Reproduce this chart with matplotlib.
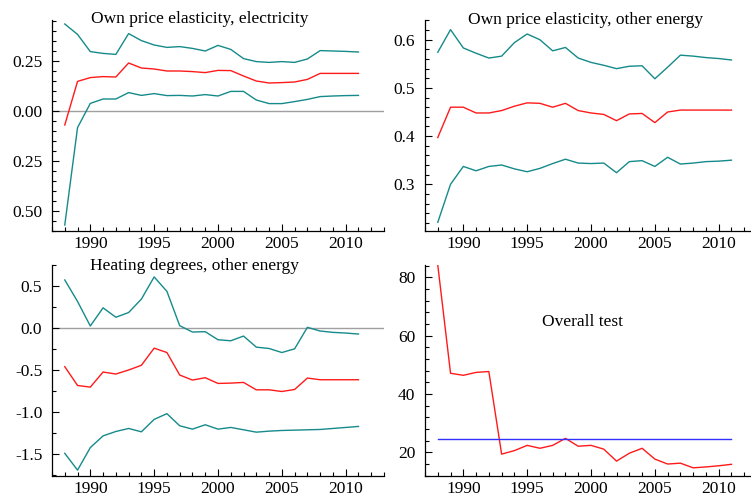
import matplotlib
matplotlib.use("Agg")
import matplotlib.pyplot as plt
from matplotlib.ticker import MultipleLocator, FuncFormatter

# recursive estimates, 1988-2011
years = list(range(1988, 2012))

elec_hi = [0.435, 0.383, 0.297, 0.288, 0.283, 0.387, 0.352, 0.330, 0.318, 0.322,
           0.313, 0.300, 0.328, 0.308, 0.262, 0.247, 0.243, 0.247, 0.243, 0.260,
           0.302, 0.300, 0.298, 0.295]
elec_mid = [-0.070, 0.148, 0.167, 0.172, 0.170, 0.240, 0.215, 0.210, 0.200, 0.200,
            0.197, 0.192, 0.203, 0.202, 0.175, 0.150, 0.140, 0.142, 0.145, 0.158,
            0.188, 0.188, 0.188, 0.188]
elec_lo = [-0.570, -0.083, 0.038, 0.060, 0.060, 0.092, 0.078, 0.087, 0.077, 0.078,
           0.075, 0.082, 0.075, 0.098, 0.098, 0.055, 0.037, 0.037, 0.047, 0.058,
           0.072, 0.075, 0.077, 0.078]

oth_hi = [0.574, 0.621, 0.583, 0.572, 0.562, 0.566, 0.594, 0.612, 0.600, 0.577,
          0.584, 0.562, 0.553, 0.547, 0.540, 0.545, 0.546, 0.519, 0.543, 0.568,
          0.566, 0.563, 0.561, 0.558]
oth_mid = [0.397, 0.460, 0.460, 0.448, 0.448, 0.453, 0.462, 0.469, 0.468, 0.460,
           0.468, 0.453, 0.448, 0.445, 0.432, 0.446, 0.447, 0.428, 0.450, 0.454,
           0.454, 0.454, 0.454, 0.454]
oth_lo = [0.221, 0.300, 0.337, 0.328, 0.337, 0.340, 0.332, 0.326, 0.333, 0.343,
          0.352, 0.344, 0.343, 0.344, 0.324, 0.347, 0.349, 0.337, 0.356, 0.342,
          0.344, 0.347, 0.348, 0.350]

heat_hi = [0.576, 0.320, 0.028, 0.244, 0.132, 0.188, 0.348, 0.612, 0.440, 0.032,
           -0.044, -0.040, -0.136, -0.148, -0.092, -0.224, -0.240, -0.288, -0.244, 0.012,
           -0.032, -0.048, -0.056, -0.068]
heat_mid = [-0.456, -0.680, -0.700, -0.520, -0.544, -0.496, -0.440, -0.236, -0.288, -0.556,
            -0.616, -0.588, -0.656, -0.652, -0.644, -0.732, -0.732, -0.752, -0.728, -0.592,
            -0.612, -0.612, -0.612, -0.612]
heat_lo = [-1.488, -1.688, -1.420, -1.280, -1.228, -1.192, -1.232, -1.084, -1.016, -1.160,
           -1.200, -1.148, -1.200, -1.180, -1.208, -1.236, -1.224, -1.216, -1.212, -1.208,
           -1.204, -1.192, -1.180, -1.168]

overall = [84.2, 47.1, 46.4, 47.4, 47.7, 19.4, 20.6, 22.4, 21.4, 22.4,
           24.8, 22.1, 22.4, 21.1, 17.0, 19.7, 21.4, 17.7, 16.0, 16.3,
           14.7, 15.0, 15.4, 15.9]
crit_value = 24.6

TEAL = "#168a8a"
RED = "#ff1a1a"
BLUE = "#3030ff"
GREY = "#a0a0a0"
FS = 12.5

plt.rcParams["font.family"] = ["Liberation Serif", "DejaVu Serif"]
plt.rcParams["axes.unicode_minus"] = False

W, H = 751, 498
fig = plt.figure(figsize=(W / 100, H / 100), dpi=100)


def px_axes(left, top, right, bottom):
    return fig.add_axes([left / W, 1 - bottom / H, (right - left) / W, (bottom - top) / H])


def style(ax, ylim, major, minor, fmt):
    ax.set_xlim(1987, 2013)
    ax.set_ylim(*ylim)
    for s in ("top", "right"):
        ax.spines[s].set_visible(False)
    for s in ("left", "bottom"):
        ax.spines[s].set_linewidth(0.9)
    ax.xaxis.set_major_locator(MultipleLocator(5))
    ax.xaxis.set_minor_locator(MultipleLocator(1))
    ax.yaxis.set_major_locator(MultipleLocator(major))
    ax.yaxis.set_minor_locator(MultipleLocator(minor))
    ax.yaxis.set_major_formatter(FuncFormatter(fmt))
    ax.tick_params(which="both", direction="in", labelsize=FS, width=0.8)
    ax.tick_params(which="major", length=5)
    ax.tick_params(which="minor", length=3)
    ax.tick_params(axis="y", pad=7)
    ax.tick_params(axis="x", pad=3.5)


ax1 = px_axes(52, 20, 384, 231)
ax2 = px_axes(425, 20, 757, 231)
ax3 = px_axes(52, 265, 384, 476)
ax4 = px_axes(425, 265, 757, 476)

# top left
ax1.axhline(0, color=GREY, lw=1.0, zorder=1)
ax1.plot(years, elec_hi, color=TEAL, lw=1.0)
ax1.plot(years, elec_mid, color=RED, lw=1.0)
ax1.plot(years, elec_lo, color=TEAL, lw=1.0)
style(ax1, (-0.6, 0.455), 0.25, 0.05, lambda v, p: f"{abs(v):.2f}")
fig.text(200 / W, 1 - 23 / H, "Own price elasticity, electricity", ha="center",
         va="baseline", fontsize=FS)

# top right
ax2.plot(years, oth_hi, color=TEAL, lw=1.0)
ax2.plot(years, oth_mid, color=RED, lw=1.0)
ax2.plot(years, oth_lo, color=TEAL, lw=1.0)
style(ax2, (0.203, 0.641), 0.1, 0.02, lambda v, p: f"{v:.1f}")
fig.text(586 / W, 1 - 24.5 / H, "Own price elasticity, other energy", ha="center",
         va="baseline", fontsize=FS)

# bottom left
ax3.axhline(0, color=GREY, lw=1.0, zorder=1)
ax3.plot(years, heat_hi, color=TEAL, lw=1.0)
ax3.plot(years, heat_mid, color=RED, lw=1.0)
ax3.plot(years, heat_lo, color=TEAL, lw=1.0)
style(ax3, (-1.758, 0.754), 0.5, 0.25, lambda v, p: f"{v:.1f}")
fig.text(194 / W, 1 - 270 / H, "Heating degrees, other energy", ha="center",
         va="baseline", fontsize=FS)

# bottom right
ax4.plot(years, overall, color=RED, lw=1.0)
ax4.plot(years, [crit_value] * len(years), color=BLUE, lw=1.0)
style(ax4, (11.9, 84.2), 20, 4, lambda v, p: f"{v:.0f}")
fig.text(582 / W, 1 - 326 / H, "Overall test", ha="center", va="baseline", fontsize=FS)

fig.savefig("out.png", dpi=100)
